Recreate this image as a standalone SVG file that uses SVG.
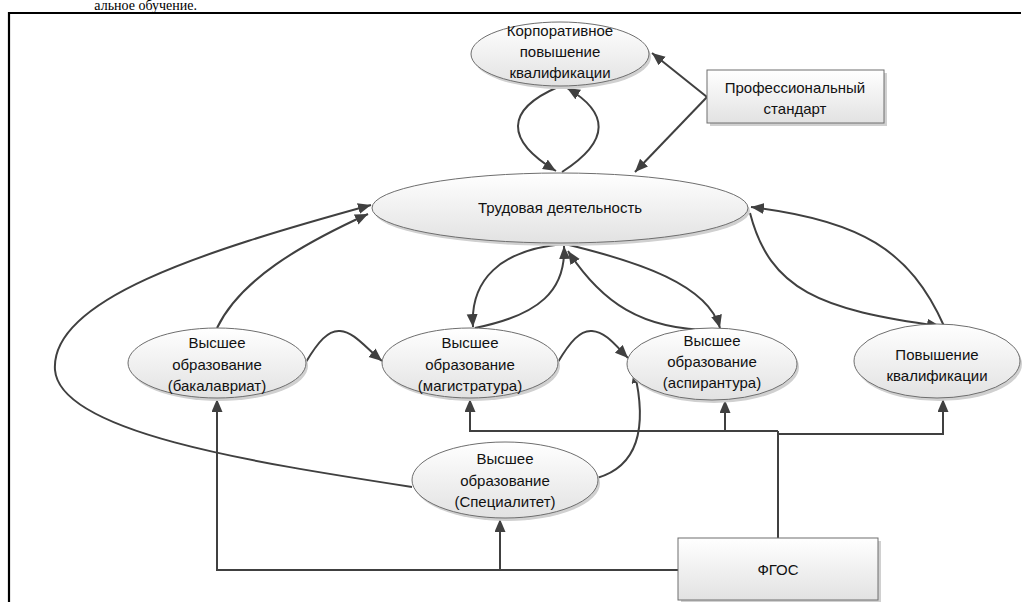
<svg xmlns="http://www.w3.org/2000/svg" width="1027" height="602" viewBox="0 0 1027 602">
<defs>
<linearGradient id="g" x1="0" y1="0" x2="0" y2="1">
<stop offset="0" stop-color="#ffffff"/>
<stop offset="1" stop-color="#e2e2e2"/>
</linearGradient>
<marker id="a" markerUnits="userSpaceOnUse" markerWidth="14" markerHeight="12" refX="13" refY="5.5" orient="auto">
<path d="M0,0 L13,5.5 L0,11 z" fill="#404040"/>
</marker>
</defs>
<style>
.n{fill:url(#g);stroke:#6e6e6e;stroke-width:1}
.sh{fill:#d0d0d0;stroke:none}
.t{font-family:"Liberation Sans",Arial,sans-serif;font-size:15px;fill:#111;text-anchor:middle}
.c{fill:none;stroke:#404040;stroke-width:2}
.ca{fill:none;stroke:#404040;stroke-width:2;marker-end:url(#a)}
</style>
<rect width="1027" height="602" fill="#ffffff"/>
<text x="197" y="10" font-family="Liberation Serif,serif" font-size="14" text-anchor="end" fill="#000">альное обучение.</text>
<path d="M9,602 V13 H1021" fill="none" stroke="#000" stroke-width="2.2"/>

<g id="connectors">
<path class="ca" d="M558,87 C505,110 505,140 556,171"/>
<path class="ca" d="M562,172 C612,140 608,112 567,88"/>
<path class="ca" d="M707,97 L652,53"/>
<path class="ca" d="M707,97 L635,172"/>
<path class="ca" d="M217,328 C240,280 300,245 368,214"/>
<path class="ca" d="M412,487 C250,462 60,432 55,370 C50,300 200,252 371,205"/>
<path class="ca" d="M306,362 C318,342 328,330 340,331 C354,332 364,346 382,361"/>
<path class="ca" d="M558,362 C570,342 580,330 592,331 C606,332 616,346 628,358"/>
<path class="ca" d="M597,478 C642,465 646,420 634,370"/>
<path class="ca" d="M563,244 C500,250 470,280 473,327"/>
<path class="ca" d="M475,328 C540,315 566,290 564,246"/>
<path class="ca" d="M565,244 C640,262 708,285 720,328"/>
<path class="ca" d="M720,330 C640,332 600,300 568,251"/>
<path class="ca" d="M750,213 C770,290 820,310 940,326"/>
<path class="ca" d="M944,326 C910,250 860,220 751,207"/>
<path class="ca" d="M678,570 H217 V399"/>
<path class="ca" d="M500,570 V519"/>
<path class="c" d="M778,538 V431"/>
<path class="ca" d="M778,431 H470 V399"/>
<path class="ca" d="M725,431 V400"/>
<path class="ca" d="M778,434 H943 V399"/>
</g>

<g id="korp">
<ellipse class="sh" cx="562" cy="57" rx="89" ry="32"/>
<ellipse class="n" cx="560" cy="54" rx="89" ry="32"/>
<text class="t" x="560" y="36">Корпоративное</text>
<text class="t" x="560" y="57">повышение</text>
<text class="t" x="560" y="78">квалификации</text>
</g>
<g id="prof">
<rect class="sh" x="710" y="73" width="177" height="53"/>
<rect class="n" x="707" y="70" width="177" height="53"/>
<text class="t" x="795" y="93">Профессиональный</text>
<text class="t" x="795" y="114">стандарт</text>
</g>
<g id="trud">
<ellipse class="sh" cx="562" cy="211" rx="188" ry="35"/>
<ellipse class="n" cx="560" cy="208" rx="188" ry="35"/>
<text class="t" x="560" y="213">Трудовая деятельность</text>
</g>
<g id="bak">
<ellipse class="sh" cx="219" cy="366" rx="89" ry="35"/>
<ellipse class="n" cx="217" cy="363" rx="89" ry="35"/>
<text class="t" x="217" y="348">Высшее</text>
<text class="t" x="217" y="370">образование</text>
<text class="t" x="217" y="391">(бакалавриат)</text>
</g>
<g id="mag">
<ellipse class="sh" cx="472" cy="366" rx="88" ry="35"/>
<ellipse class="n" cx="470" cy="363" rx="88" ry="35"/>
<text class="t" x="470" y="348">Высшее</text>
<text class="t" x="470" y="370">образование</text>
<text class="t" x="470" y="391">(магистратура)</text>
</g>
<g id="asp">
<ellipse class="sh" cx="714" cy="367" rx="85" ry="36"/>
<ellipse class="n" cx="712" cy="364" rx="85" ry="36"/>
<text class="t" x="712" y="346">Высшее</text>
<text class="t" x="712" y="367">образование</text>
<text class="t" x="712" y="388">(аспирантура)</text>
</g>
<g id="pov">
<ellipse class="sh" cx="939" cy="364" rx="83" ry="37"/>
<ellipse class="n" cx="937" cy="361" rx="83" ry="37"/>
<text class="t" x="937" y="360">Повышение</text>
<text class="t" x="937" y="381">квалификации</text>
</g>
<g id="spec">
<ellipse class="sh" cx="507" cy="483" rx="93" ry="38"/>
<ellipse class="n" cx="505" cy="480" rx="93" ry="38"/>
<text class="t" x="505" y="464">Высшее</text>
<text class="t" x="505" y="486">образование</text>
<text class="t" x="505" y="507">(Специалитет)</text>
</g>
<g id="fgos">
<rect class="sh" x="681" y="541" width="200" height="62"/>
<rect class="n" x="678" y="538" width="200" height="62"/>
<text class="t" x="778" y="575">ФГОС</text>
</g>
</svg>
